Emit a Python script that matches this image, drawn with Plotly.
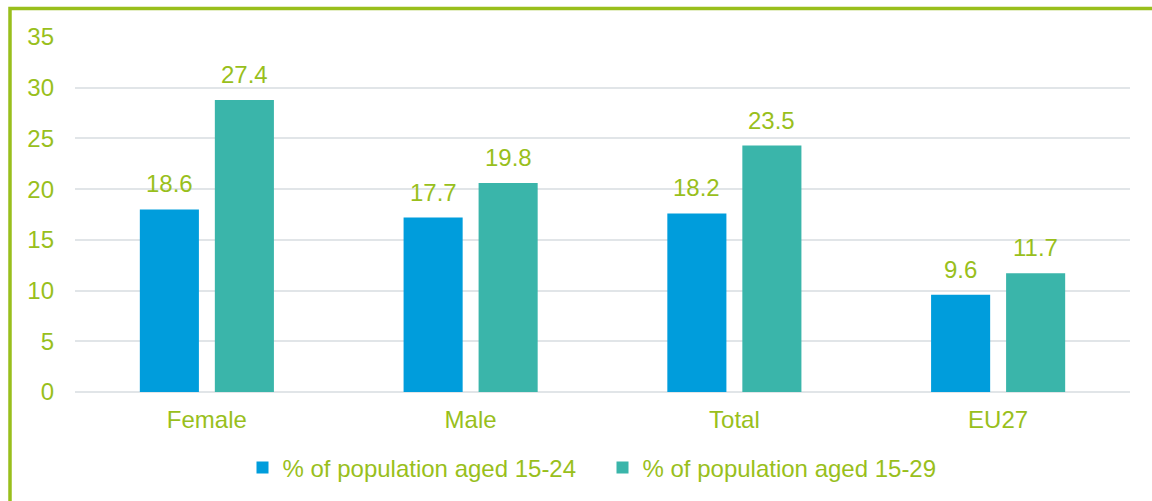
import plotly.graph_objects as go

categories = ["Female", "Male", "Total", "EU27"]
series_names = ["% of population aged 15-24", "% of population aged 15-29"]
# bar heights as drawn in the picture
values_15_24 = [18.0, 17.2, 17.6, 9.6]
values_15_29 = [28.8, 20.6, 24.3, 11.7]
# data labels as printed in the picture
labels_15_24 = ["18.6", "17.7", "18.2", "9.6"]
labels_15_29 = ["27.4", "19.8", "23.5", "11.7"]
y_ticks = [0, 5, 10, 15, 20, 25, 30, 35]

GREEN = "#99BF1C"
BLUE = "#009DDC"
TEAL = "#3AB5AA"
GRID = "#E1E5E8"
FONT = "Liberation Sans, Arial, sans-serif"
FS = 24

xpos = list(range(len(categories)))
bar_w = 0.224
half = 0.1422

fig = go.Figure()
fig.add_trace(go.Bar(
    x=xpos, y=values_15_24, name=series_names[0],
    marker=dict(color=BLUE, line=dict(width=0)),
    width=bar_w, offset=-half - bar_w / 2,
))
fig.add_trace(go.Bar(
    x=xpos, y=values_15_29, name=series_names[1],
    marker=dict(color=TEAL, line=dict(width=0)),
    width=bar_w, offset=half - bar_w / 2,
))

annotations = []
for i in xpos:
    for dx, v, t in ((-half, values_15_24[i], labels_15_24[i]), (half, values_15_29[i], labels_15_29[i])):
        annotations.append(dict(
            x=i + dx, y=v, xref="x", yref="y", text=t, showarrow=False,
            yanchor="bottom", xanchor="center", yshift=10,
            font=dict(family=FONT, size=FS, color=GREEN),
        ))

fig.update_layout(
    width=1152, height=501,
    paper_bgcolor="white", plot_bgcolor="white",
    margin=dict(l=75, r=22, t=37, b=109, autoexpand=False),
    barmode="overlay",
    font=dict(family=FONT, size=FS, color=GREEN),
    showlegend=True,
    legend=dict(orientation="h", x=0.5, xanchor="center", yref="container",
                y=1 - 445.5 / 501, yanchor="top",
                font=dict(family=FONT, size=FS, color=GREEN), traceorder="normal",
                itemwidth=30, entrywidth=315),
    annotations=annotations,
    shapes=[dict(type="rect", xref="paper", yref="paper",
                 x0=(10 - 75) / 1055, x1=1.2, y0=-0.6, y1=1 + (37 - 8.5) / 355,
                 line=dict(color=GREEN, width=3.5), fillcolor="rgba(0,0,0,0)", layer="above")],
)
fig.update_xaxes(
    range=[-0.5, 3.5], tickvals=xpos, ticktext=categories,
    showgrid=False, zeroline=False, showline=False, ticks="",
    tickfont=dict(family=FONT, size=FS, color=GREEN), ticklabelstandoff=11,
)
fig.update_yaxes(
    range=[0, 35], tickvals=y_ticks, showgrid=True, gridcolor=GRID, gridwidth=2,
    zeroline=True, zerolinecolor=GRID, zerolinewidth=2, showline=False, ticks="",
    tickfont=dict(family=FONT, size=FS, color=GREEN), ticklabelstandoff=20,
)

fig.write_html("out.html", config={"displayModeBar": False},
               post_script="document.body.style.margin='0';document.body.style.overflow='hidden';")
